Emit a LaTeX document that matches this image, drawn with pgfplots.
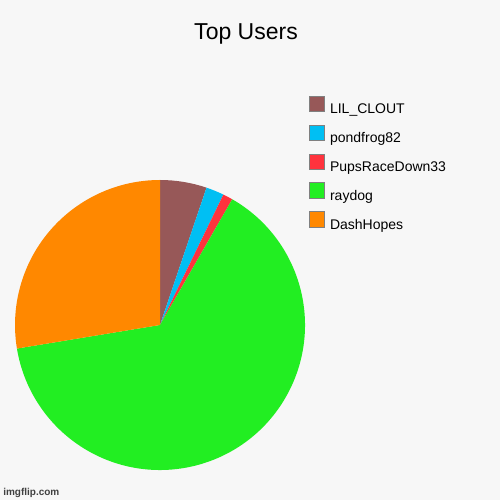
\documentclass[border=0pt]{standalone}
\usepackage{pgfplots}
\pgfplotsset{compat=1.18}
\usepackage{pgfplotstable}
\usepackage{fontspec}
\setmainfont{Liberation Sans}
\definecolor{bgc}{HTML}{F7F7F7}
\definecolor{cA}{HTML}{975858}
\definecolor{cB}{HTML}{00BFF3}
\definecolor{cC}{HTML}{FF333D}
\definecolor{cD}{HTML}{22EE22}
\definecolor{cE}{HTML}{FF8800}
\pgfplotstableread{
name value
LIL_CLOUT 5.2
pondfrog82 2.0
PupsRaceDown33 1.1
raydog 64.1
DashHopes 27.6
}\piedata
\begin{document}
\begin{tikzpicture}
\fill[bgc] (0,0) rectangle (375pt,375pt);
% cumulative angles from the table
\gdef\runsum{0}
\gdef\total{0}
\foreach \i in {0,...,4}{%
  \pgfplotstablegetelem{\i}{value}\of\piedata
  \pgfmathsetmacro\t{\total+\pgfplotsretval}%
  \xdef\total{\t}%
}
\foreach \i/\n in {0/A,1/B,2/C,3/D,4/E}{%
  \pgfplotstablegetelem{\i}{value}\of\piedata
  \pgfmathsetmacro\a{90-(\runsum/\total)*360}%
  \pgfmathsetmacro\ns{\runsum+\pgfplotsretval}%
  \pgfmathsetmacro\b{90-(\ns/\total)*360}%
  \expandafter\xdef\csname pieS\n\endcsname{\a}%
  \expandafter\xdef\csname pieE\n\endcsname{\b}%
  \xdef\runsum{\ns}%
}
\begin{axis}[
  at={(0,0)}, anchor=south west,
  width=375pt, height=375pt, scale only axis,
  xmin=0, xmax=500, ymin=0, ymax=500,
  hide axis, clip=false,
  legend image code/.code={\draw[#1] (0pt,-2.2pt) rectangle (11.6pt,9.4pt);},
  legend style={at={(axis cs:309,404)}, anchor=north west, draw=none, fill=none,
    inner sep=0pt, outer sep=0pt, row sep=8.2pt,
    font=\fontsize{10.5}{12}\selectfont,
    nodes={inner sep=0pt, text height=7.6pt, text depth=0pt},
    /tikz/every odd column/.append style={column sep=3.8pt}},
  legend cell align=left,
]
\foreach \n in {A,B,C,D,E}{%
  \edef\tmp{\noexpand\fill[c\n] (axis cs:160,175) -- ([shift={(\csname pieS\n\endcsname:108.75pt)}]axis cs:160,175)
    arc[start angle=\csname pieS\n\endcsname, end angle=\csname pieE\n\endcsname, radius=108.75pt] -- cycle;}%
  \tmp
}
\addlegendimage{fill=cA, draw=gray}
\addlegendentry{LIL\_CLOUT}
\addlegendimage{fill=cB, draw=gray}
\addlegendentry{pondfrog82}
\addlegendimage{fill=cC, draw=gray}
\addlegendentry{PupsRaceDown33}
\addlegendimage{fill=cD, draw=gray}
\addlegendentry{raydog}
\addlegendimage{fill=cE, draw=gray}
\addlegendentry{DashHopes}
\node[anchor=base, font=\fontsize{17.25}{20}\selectfont] at (axis cs:246,460) {Top Users};
\node[anchor=base west, font=\bfseries\fontsize{7.5}{9}\selectfont, text=black!75, inner sep=0pt] at (axis cs:3,4) {imgflip.com};
\end{axis}
\end{tikzpicture}
\end{document}
